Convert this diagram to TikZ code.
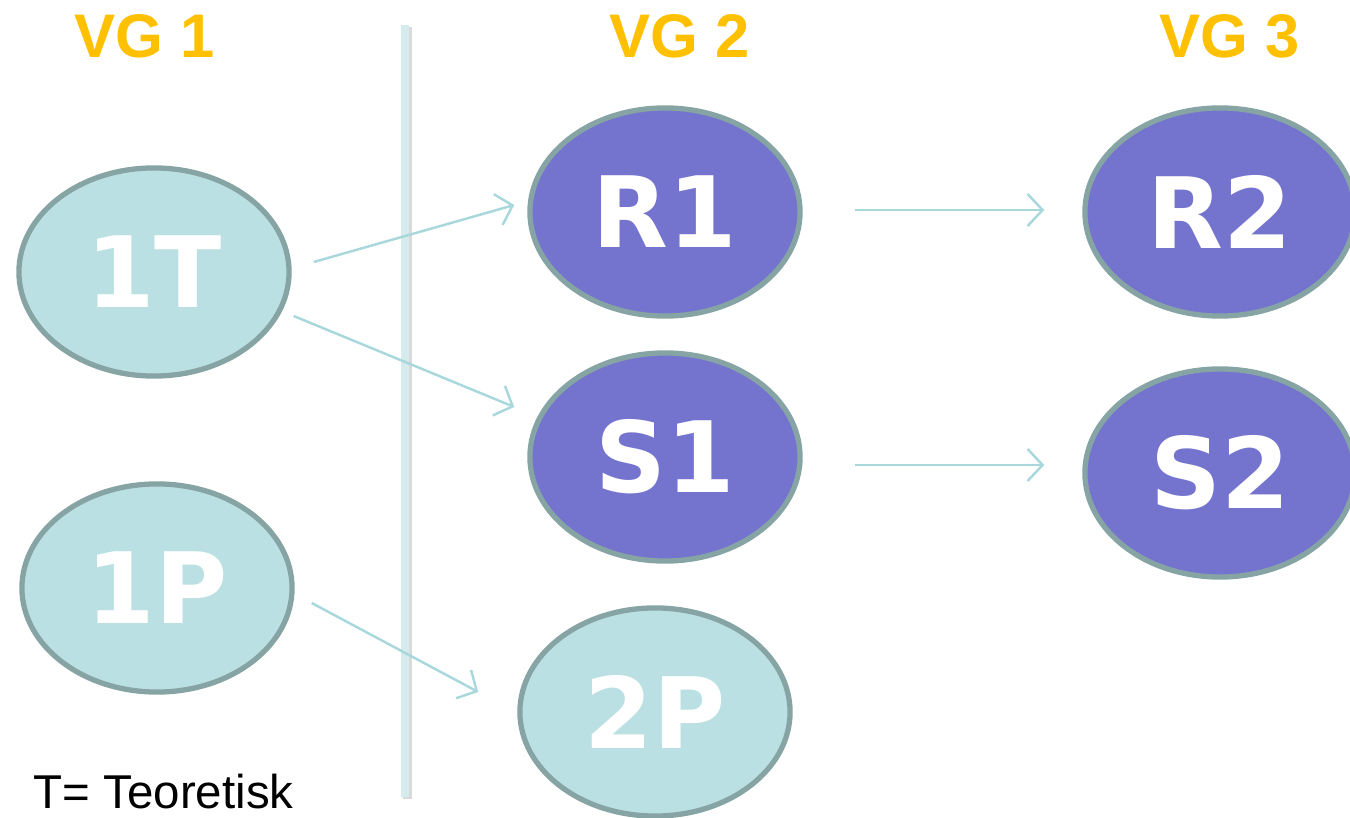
\documentclass[tikz,border=0pt]{standalone}
\usepackage{fontspec}
\setmainfont{Liberation Sans}
\newfontfamily\labelfont{DejaVu Sans}
\usetikzlibrary{shapes.geometric,arrows.meta}
\definecolor{vgorange}{HTML}{FFC000}
\definecolor{paleteal}{HTML}{BBE0E3}
\definecolor{lavender}{HTML}{7474CF}
\definecolor{rimgray}{HTML}{87A4A4}
\definecolor{arrowteal}{HTML}{A9D8DC}
\definecolor{dividerfill}{HTML}{D6EBEE}
\begin{document}
\begin{tikzpicture}[x=0.01cm,y=-0.01cm,
    course/.style={ellipse,draw=rimgray,line width=1.5pt,
      minimum width=2.7cm,minimum height=2.08cm,inner sep=0pt,
      text=white,font=\labelfont\bfseries\fontsize{28}{28}\selectfont},
    theory/.style={course,fill=paleteal},
    vocational/.style={course,fill=lavender},
    level/.style={text=vgorange,font=\bfseries\fontsize{17.5}{20}\selectfont},
    path/.style={draw=arrowteal,line width=0.7pt,
      -{Straight Barb[length=0.15cm,width=0.32cm]}}]
  \clip (0,0) rectangle (1350,818);
  \useasboundingbox (0,0) rectangle (1350,818);
  % divider between VG 1 and VG 2
  \fill[black!15] (403,27) rectangle (412,799);
  \fill[dividerfill] (401,25) rectangle (409,797);
  % year headings
  \draw
    (145,36) node[level] (vg1){VG 1}
    (680,36) node[level] (vg2){VG 2}
    (1230,36) node[level] (vg3){VG 3};
  % courses
  \draw
    (154,272) node[theory] (1T){1T}
    (157,588) node[theory] (1P){1P}
    (665,212) node[vocational] (R1){R1}
    (665,457) node[vocational] (S1){S1}
    (655,712) node[theory] (2P){2P}
    (1220,212) node[vocational] (R2){R2}
    (1220,473) node[vocational] (S2){S2};
  \node[anchor=base west,inner sep=0pt,font=\fontsize{13.5}{16}\selectfont] (key) at (33,808) {T= Teoretisk};
  \begin{scope}[path]
    \draw ([shift={(22,-10)}]1T.east) -- ([shift={(-13,-7)}]R1.west);
    \draw ([shift={(2,44)}]1T.east) -- ([shift={(-13,-50)}]S1.west);
    \draw ([shift={(17,15)}]1P.east) -- ([shift={(-39,-20)}]2P.west);
    \draw ([shift={(52,-2)}]R1.east) -- ([shift={(-38,-2)}]R2.west);
    \draw ([shift={(52,8)}]S1.east) -- ([shift={(-38,-8)}]S2.west);
  \end{scope}
\end{tikzpicture}
\end{document}
